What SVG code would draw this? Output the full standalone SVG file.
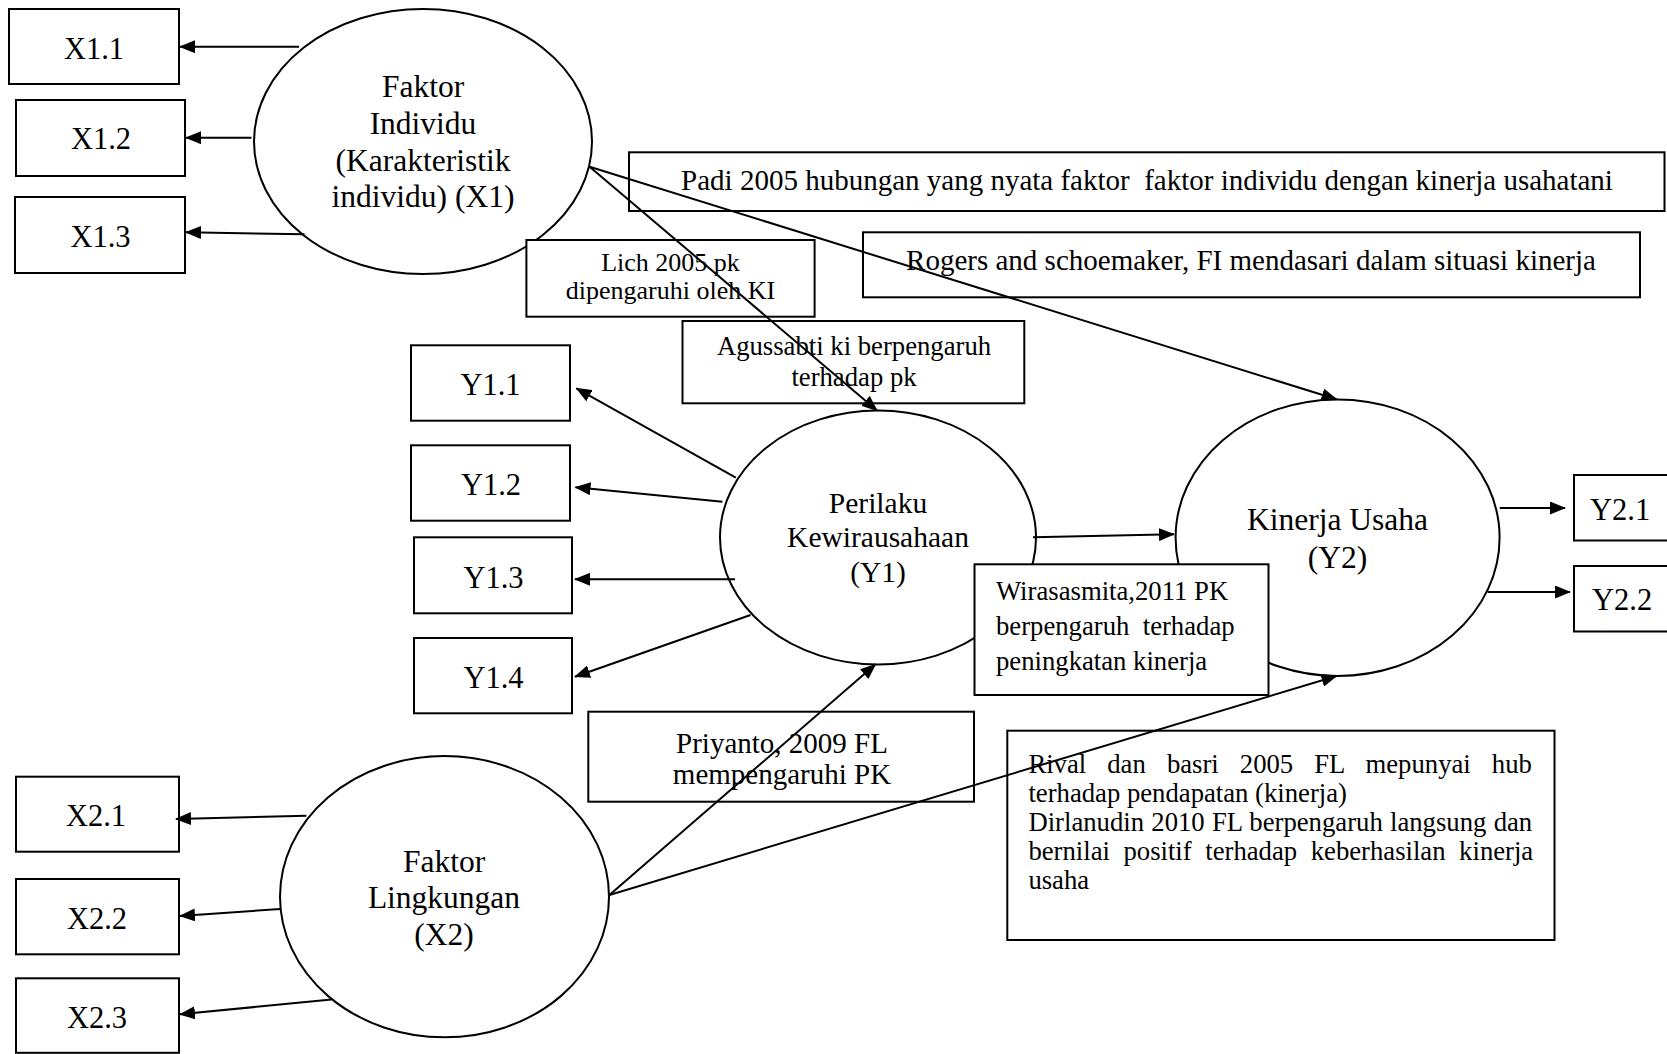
<svg xmlns="http://www.w3.org/2000/svg" width="1667" height="1054" viewBox="0 0 1667 1054">
<style>
  .shape { fill: #fff; stroke: #000; stroke-width: 2; }
  .t { font-family: "Liberation Serif", "Times New Roman", serif; fill: #000; }
  .big { font-size: 30.5px; text-anchor: middle; }
  .lat { font-size: 31.5px; text-anchor: middle; }
  .mid { font-size: 29px; text-anchor: middle; }
  .sm { font-size: 26.7px; }
  .smc { font-size: 26.7px; text-anchor: middle; }
  .conn { stroke: #000; stroke-width: 2; fill: none; marker-end: url(#ah); }
</style>
<defs>
  <marker id="ah" markerUnits="userSpaceOnUse" markerWidth="16" markerHeight="13" refX="15" refY="6.5" orient="auto">
    <path d="M0,0 L16,6.5 L0,13 z" fill="#000"/>
  </marker>
</defs>
<rect width="1667" height="1054" fill="#fff"/>

<!-- latent variables -->
<g id="node-x1">
  <ellipse class="shape" cx="423" cy="141.5" rx="169" ry="132.5"/>
  <text class="t lat" x="423" y="97">Faktor</text>
  <text class="t lat" x="423" y="134">Individu</text>
  <text class="t lat" x="423" y="170.5">(Karakteristik</text>
  <text class="t lat" x="423" y="207">individu) (X1)</text>
</g>
<g id="node-y1">
  <ellipse class="shape" cx="878" cy="537.5" rx="158" ry="127"/>
  <text class="t lat" x="878" y="512.7" style="font-size:29.5px">Perilaku</text>
  <text class="t lat" x="878" y="546.7" style="font-size:29.5px">Kewirausahaan</text>
  <text class="t lat" x="878" y="581.7" style="font-size:29.5px">(Y1)</text>
</g>
<g id="node-y2">
  <ellipse class="shape" cx="1337.6" cy="537.7" rx="162" ry="138.3"/>
  <text class="t lat" x="1337.5" y="530">Kinerja Usaha</text>
  <text class="t lat" x="1337.5" y="568">(Y2)</text>
</g>
<g id="node-x2">
  <ellipse class="shape" cx="444.5" cy="896.7" rx="164.5" ry="140.6"/>
  <text class="t lat" x="444" y="871.7">Faktor</text>
  <text class="t lat" x="444" y="908.3">Lingkungan</text>
  <text class="t lat" x="444" y="945">(X2)</text>
</g>

<!-- indicators -->
<g id="node-x1-1"><rect class="shape" x="9" y="9" width="170" height="75"/><text class="t big" x="94" y="59">X1.1</text></g>
<g id="node-x1-2"><rect class="shape" x="16" y="100" width="169" height="76"/><text class="t big" x="101" y="149">X1.2</text></g>
<g id="node-x1-3"><rect class="shape" x="15" y="197" width="170" height="76"/><text class="t big" x="100.5" y="246.5">X1.3</text></g>

<g id="node-y1-1"><rect class="shape" x="411" y="345.3" width="159" height="75.4"/><text class="t big" x="490.5" y="395">Y1.1</text></g>
<g id="node-y1-2"><rect class="shape" x="411" y="445.3" width="159" height="75.4"/><text class="t big" x="491" y="495">Y1.2</text></g>
<g id="node-y1-3"><rect class="shape" x="414" y="537.3" width="158" height="76"/><text class="t big" x="493.5" y="588.3">Y1.3</text></g>
<g id="node-y1-4"><rect class="shape" x="414" y="638" width="158" height="75.3"/><text class="t big" x="493.5" y="688.3">Y1.4</text></g>

<g id="node-y2-1"><rect class="shape" x="1574" y="475" width="120" height="65.5"/><text class="t big" x="1590" y="520" style="text-anchor:start">Y2.1</text></g>
<g id="node-y2-2"><rect class="shape" x="1574" y="566" width="120" height="65.5"/><text class="t big" x="1592" y="610" style="text-anchor:start">Y2.2</text></g>

<g id="node-x2-1"><rect class="shape" x="16" y="776.7" width="163" height="75"/><text class="t big" x="96" y="826">X2.1</text></g>
<g id="node-x2-2"><rect class="shape" x="16" y="879" width="163" height="75.3"/><text class="t big" x="97" y="929">X2.2</text></g>
<g id="node-x2-3"><rect class="shape" x="16" y="978.3" width="163" height="74.5"/><text class="t big" x="97" y="1028.3">X2.3</text></g>

<!-- annotation boxes -->
<g id="note-padi">
  <rect class="shape" x="629" y="152.3" width="1035.5" height="58.7"/>
  <text class="t mid" x="1147" y="190" xml:space="preserve">Padi 2005 hubungan yang nyata faktor  faktor individu dengan kinerja usahatani</text>
</g>
<g id="note-rogers">
  <rect class="shape" x="863" y="232.3" width="777" height="65"/>
  <text class="t mid" x="1251" y="270">Rogers and schoemaker, FI mendasari dalam situasi kinerja</text>
</g>
<g id="note-lich">
  <rect class="shape" x="526.4" y="240" width="288.2" height="76.7"/>
  <text class="t smc" x="670.5" y="271" style="font-size:26px">Lich 2005 pk</text>
  <text class="t smc" x="670.5" y="299" style="font-size:26px">dipengaruhi oleh KI</text>
</g>
<g id="note-agussabti">
  <rect class="shape" x="682.5" y="321" width="341.8" height="82.3"/>
  <text class="t smc" x="854" y="355">Agussabti ki berpengaruh</text>
  <text class="t smc" x="854" y="386">terhadap pk</text>
</g>
<g id="note-wirasasmita">
  <rect class="shape" x="974.5" y="564.3" width="294" height="130.7"/>
  <text class="t sm" x="996" y="600">Wirasasmita,2011 PK</text>
  <text class="t sm" x="996" y="634.5" xml:space="preserve">berpengaruh  terhadap</text>
  <text class="t sm" x="996" y="670">peningkatan kinerja</text>
</g>
<g id="note-priyanto">
  <rect class="shape" x="588.3" y="711.7" width="385.7" height="90"/>
  <text class="t mid" x="782" y="753">Priyanto, 2009 FL</text>
  <text class="t mid" x="782" y="784">mempengaruhi PK</text>
</g>
<g id="note-rival">
  <rect class="shape" x="1007.3" y="730.7" width="547.2" height="209.3"/>
  <text class="t sm" x="1028.4" y="773" style="word-spacing:14.4px">Rival dan basri 2005 FL mepunyai hub</text>
  <text class="t sm" x="1028.4" y="802">terhadap pendapatan (kinerja)</text>
  <text class="t sm" x="1028.4" y="831" style="word-spacing:0.6px">Dirlanudin 2010 FL berpengaruh langsung dan</text>
  <text class="t sm" x="1028.4" y="860" style="word-spacing:6.9px">bernilai positif terhadap keberhasilan kinerja</text>
  <text class="t sm" x="1028.4" y="889">usaha</text>
</g>

<!-- connectors -->
<g id="connectors">
  <path class="conn" d="M299,46.7 L180,46.7"/>
  <path class="conn" d="M251.5,137.7 L186,137.7"/>
  <path class="conn" d="M304.5,234.3 L186,232.3"/>
  <path class="conn" d="M589.6,166.7 L877,410.5"/>
  <path class="conn" d="M589.6,166.7 L1336.5,399.3"/>
  <path class="conn" d="M735.8,477.7 L576.4,388.3"/>
  <path class="conn" d="M722.4,501.7 L575.5,487.3"/>
  <path class="conn" d="M735,579.3 L575,579.3"/>
  <path class="conn" d="M750.5,615 L575,676.7"/>
  <path class="conn" d="M1033,537.3 L1174,534.3"/>
  <path class="conn" d="M1499.7,508 L1565,508"/>
  <path class="conn" d="M1487.5,592 L1570,592"/>
  <path class="conn" d="M609.4,895 L875.5,664.3"/>
  <path class="conn" d="M609.4,895 L1336.5,676"/>
  <path class="conn" d="M306.4,815.7 L176,819"/>
  <path class="conn" d="M280,909 L180,916"/>
  <path class="conn" d="M331.5,999.5 L180,1014.3"/>
</g>
</svg>
